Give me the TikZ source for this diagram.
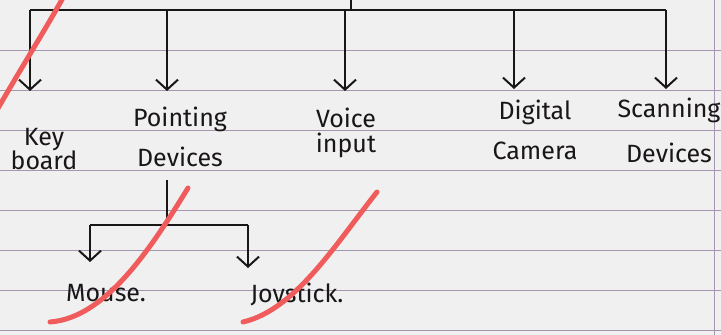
\documentclass[tikz,border=0pt]{standalone}
\usepackage{fontspec}
\setmainfont{Fira Sans}
\usetikzlibrary{positioning,arrows.meta}

\definecolor{paper}{RGB}{241,240,240}
\definecolor{ink}{RGB}{25,22,22}
\definecolor{ruling}{RGB}{128,104,140}
\definecolor{marker}{RGB}{240,92,92}

\begin{document}
\begin{tikzpicture}[x=1pt, y=-1pt,
  nodes={font=\fontsize{25}{28}\selectfont, text=ink, align=center,
    inner sep=1pt, anchor=north},
  line/.style = {draw=ink, line width=2.4pt},
  arr/.style = {line, -{Straight Barb[length=10pt, width=22pt, line width=2pt]}},
  rule/.style = {draw=ruling!70, line width=1pt},
  tick/.style = {draw=marker, line width=5pt, line cap=round}
  ]
  \useasboundingbox[fill=paper] (0,0) rectangle (721,335);

  % ruled paper
  \foreach \y in {50,90,...,330}
    \draw[rule] (0,\y) -- (721,\y);
  \draw[rule] (714,0) -- (714,335);

  % kinds of input devices
  \node (kb) at (44,127)  {Key\\[-4pt]board};
  \node (pd) at (180,106) {Pointing\\[12pt]Devices};
  \node (vi) at (346,107) {Voice\\[-3pt]input};
  \node (dc) at (535,99)  {Digital\\[12pt]Camera};
  \node (sd) at (669,97)  {Scanning\\[17pt]Devices};

  \coordinate (top) at (351,0);
  \coordinate (b1) at (30,10);
  \coordinate (b2) at (167,10);
  \coordinate (b3) at (345,10);
  \coordinate (b4) at (514,10);
  \coordinate (b5) at (666,10);

  \draw[line] (top) -- (top |- b3);
  \draw[line] (b1) -- (b5);
  \draw[arr, shorten >=36pt] (b1) -- (b1 |- kb.north);
  \draw[arr, shorten >=15pt] (b2) -- (b2 |- pd.north);
  \draw[arr, shorten >=16pt] (b3) -- (b3 |- vi.north);
  \draw[arr, shorten >=10pt] (b4) -- (b4 |- dc.north);
  \draw[arr, shorten >=8pt]  (b5) -- (b5 |- sd.north);

  % pointing devices
  \node (ms) at (106,283) {Mouse.};
  \node (js) at (297,282) {Joystick.};

  \coordinate (sub) at (167,225);
  \coordinate (sl) at (90,225);
  \coordinate (sr) at (248,225);

  \draw[line, shorten <=12pt] (sub |- pd.south) -- (sub);
  \draw[line] (sl) -- (sr);
  \draw[arr, shorten >=21pt] (sl) -- (sl |- ms.north);
  \draw[arr, shorten >=14pt] (sr) -- (sr |- js.north);

  % marks in red
  \draw[tick] (64,-4) .. controls (45,30) and (20,70) .. (-3,110);
  \draw[tick] (50,322) .. controls (105,318) and (150,250) .. (188,188);
  \draw[tick] (243,322) .. controls (295,310) and (335,245) .. (377,192);
\end{tikzpicture}
\end{document}
